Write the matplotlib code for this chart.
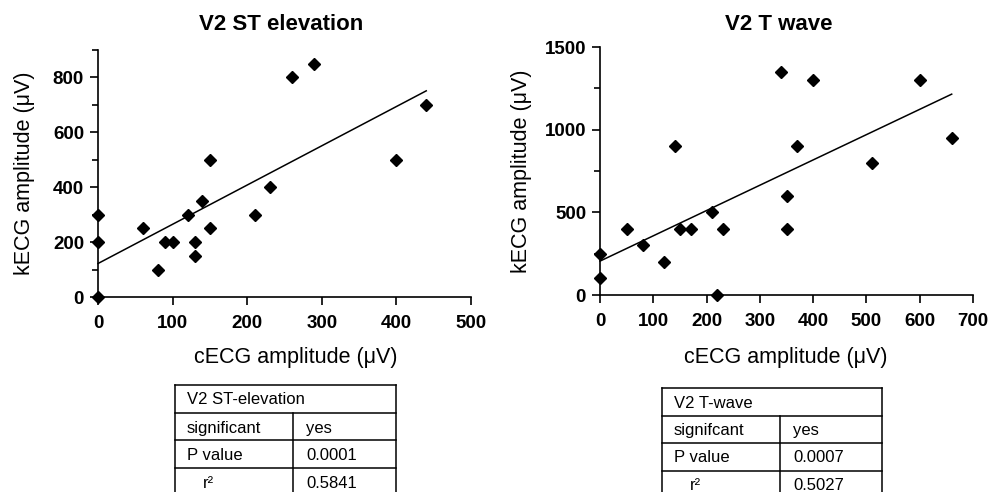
import numpy as np
import matplotlib
matplotlib.use('Agg')
import matplotlib.pyplot as plt
from matplotlib.ticker import MultipleLocator

plt.rcParams['font.family'] = ['Liberation Sans', 'DejaVu Sans']

# V2 ST elevation (cECG vs kECG, uV)
st_x = [0, 0, 0, 60, 80, 90, 100, 120, 130, 130, 140, 150, 150, 210, 230, 260, 290, 400, 440]
st_y = [0, 200, 300, 250, 100, 200, 200, 300, 200, 150, 350, 500, 250, 300, 400, 800, 850, 500, 700]
st_fit = (122, 1.43)   # intercept, slope
st_table = [['V2 ST-elevation'], ['significant', 'yes'], ['P value', '0.0001'], ['r\u00b2', '0.5841']]

# V2 T wave
tw_x = [0, 0, 50, 80, 120, 140, 150, 170, 210, 220, 230, 340, 350, 350, 370, 400, 510, 600, 660]
tw_y = [100, 250, 400, 300, 200, 900, 400, 400, 500, 0, 400, 1350, 600, 400, 900, 1300, 800, 1300, 950]
tw_fit = (205, 1.53)
tw_table = [['V2 T-wave'], ['signifcant', 'yes'], ['P value', '0.0007'], ['r\u00b2', '0.5027']]

W, H = 989, 492
fig = plt.figure(figsize=(W / 100, H / 100), dpi=100)


def px(x0, y0, x1, y1):
    # pixel box -> figure fraction rect
    return [x0 / W, 1 - y1 / H, (x1 - x0) / W, (y1 - y0) / H]


def scatter_panel(rect, xs, ys, fit, xmax, ymax, ymaj, ymin):
    ax = fig.add_axes(rect)
    ax.plot(xs, ys, 'D', color='black', ms=6.5, clip_on=False, zorder=3)
    b, m = fit
    lx = np.array([0, max(xs)])
    ax.plot(lx, b + m * lx, color='black', lw=1.1, clip_on=False)
    ax.set_xlim(0, xmax)
    ax.set_ylim(0, ymax)
    ax.xaxis.set_major_locator(MultipleLocator(100))
    ax.yaxis.set_major_locator(MultipleLocator(ymaj))
    ax.yaxis.set_minor_locator(MultipleLocator(ymin))
    for s in ['top', 'right']:
        ax.spines[s].set_visible(False)
    for s in ['left', 'bottom']:
        ax.spines[s].set_linewidth(1.2)
    ax.tick_params(which='major', length=6, width=1.2, labelsize=13.5)
    ax.tick_params(axis='x', which='major', pad=7)
    ax.tick_params(axis='y', which='major', pad=4)
    ax.tick_params(which='minor', length=4, width=1.2)
    ax.tick_params(axis='x', which='minor', length=0)
    for lab in ax.get_xticklabels() + ax.get_yticklabels():
        lab.set_fontweight('bold')
    return ax


scatter_panel(px(98, 50, 471, 297), st_x, st_y, st_fit, 500, 900, 200, 100)
scatter_panel(px(600, 47, 973, 295), tw_x, tw_y, tw_fit, 700, 1500, 500, 250)

# titles and axis labels
fig.text(281 / W, 1 - 25 / H, 'V2 ST elevation', ha='center', va='center', fontsize=16, fontweight='bold')
fig.text(779 / W, 1 - 25 / H, 'V2 T wave', ha='center', va='center', fontsize=16, fontweight='bold')
fig.text(296 / W, 1 - 357 / H, 'cECG amplitude (\u03bcV)', ha='center', va='center', fontsize=15.5)
fig.text(786 / W, 1 - 358 / H, 'cECG amplitude (\u03bcV)', ha='center', va='center', fontsize=15.5)
fig.text(25 / W, 1 - 173 / H, 'kECG amplitude (\u03bcV)', ha='center', va='center', fontsize=15.5, rotation=90)
fig.text(522 / W, 1 - 171 / H, 'kECG amplitude (\u03bcV)', ha='center', va='center', fontsize=15.5, rotation=90)

# tables drawn on an overlay in pixel coords
ov = fig.add_axes([0, 0, 1, 1])
ov.set_xlim(0, W)
ov.set_ylim(H, 0)
ov.axis('off')


def draw_table(rows, x0, xm, x1, tops):
    rh = tops[1] - tops[0]
    bottom = tops[-1] + rh
    for t in tops:
        ov.plot([x0, x1], [t, t], color='black', lw=1.1)
    ov.plot([x0, x0], [tops[0], bottom], color='black', lw=1.1)
    ov.plot([x1, x1], [tops[0], bottom], color='black', lw=1.1)
    ov.plot([xm, xm], [tops[1], bottom], color='black', lw=1.1)
    for i, row in enumerate(rows):
        yc = tops[i] + rh / 2 + 1
        ind = 16 if row[0].startswith('r') and len(row[0]) == 2 else 0
        ov.text(x0 + 12 + ind, yc, row[0], ha='left', va='center', fontsize=12)
        if len(row) > 1:
            ov.text(xm + 13, yc, row[1], ha='left', va='center', fontsize=12)


draw_table(st_table, 175, 293, 396, [385, 413, 440, 468])
draw_table(tw_table, 662, 780, 882, [388, 416, 443, 471])

fig.savefig('out.png', dpi=100)
